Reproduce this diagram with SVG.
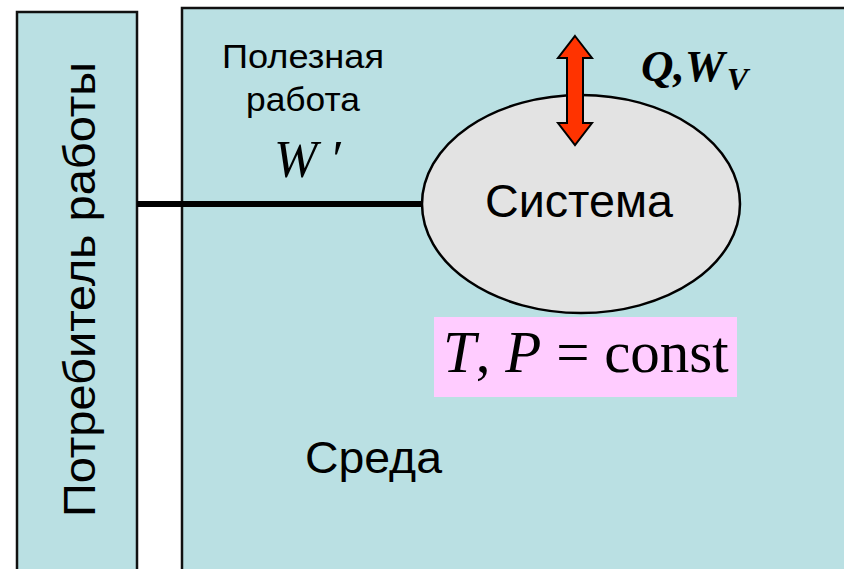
<svg xmlns="http://www.w3.org/2000/svg" width="844" height="569" viewBox="0 0 844 569">
<style>
.box{fill:#BAE0E3;stroke:#111;stroke-width:2.5}
.sans{font-family:"Liberation Sans",Arial,sans-serif;fill:#000}
.serif{font-family:"Liberation Serif","Times New Roman",serif;fill:#000}
</style>
<rect width="844" height="569" fill="#fff"/>
<g id="consumer">
<rect class="box" x="17" y="12" width="120" height="570"/>
<text class="sans" font-size="45" textLength="455" lengthAdjust="spacingAndGlyphs" transform="translate(95,517) rotate(-90)">Потребитель работы</text>
</g>
<g id="environment">
<rect class="box" x="182" y="8" width="680" height="580"/>
<text class="sans" font-size="45" x="305" y="473" textLength="137" lengthAdjust="spacingAndGlyphs">Среда</text>
<text class="sans" font-size="33" x="222" y="68" textLength="162" lengthAdjust="spacingAndGlyphs">Полезная</text>
<text class="sans" font-size="33" x="246" y="111" textLength="114" lengthAdjust="spacingAndGlyphs">работа</text>
<text class="serif" font-size="52" font-style="italic" x="274" y="177">W<tspan dx="12">′</tspan></text>
</g>
<g id="system">
<ellipse cx="581" cy="204" rx="159" ry="109" fill="#E3E3E3" stroke="#000" stroke-width="2.5"/>
<text class="sans" font-size="46" x="485" y="217" textLength="188" lengthAdjust="spacingAndGlyphs">Система</text>
</g>
<g id="connectors">
<line x1="137" y1="204" x2="423" y2="204" stroke="#000" stroke-width="6"/>
<path d="M575,36 L592,58 L583,58 L583,123 L592,123 L575,145 L558,123 L567,123 L567,58 L558,58 Z" fill="#FF3300" stroke="#000" stroke-width="2" stroke-linejoin="miter"/>
</g>
<g id="qw-label">
<text class="serif" font-size="45" font-weight="bold" font-style="italic" x="641" y="81">Q,W<tspan font-size="32" dx="2" dy="9">V</tspan></text>
</g>
<g id="condition">
<rect x="434" y="317" width="303" height="80" fill="#FFCCFF"/>
<text class="serif" font-size="59" x="443" y="372"><tspan font-style="italic">T</tspan>, <tspan font-style="italic">P</tspan> = const</text>
</g>
</svg>
